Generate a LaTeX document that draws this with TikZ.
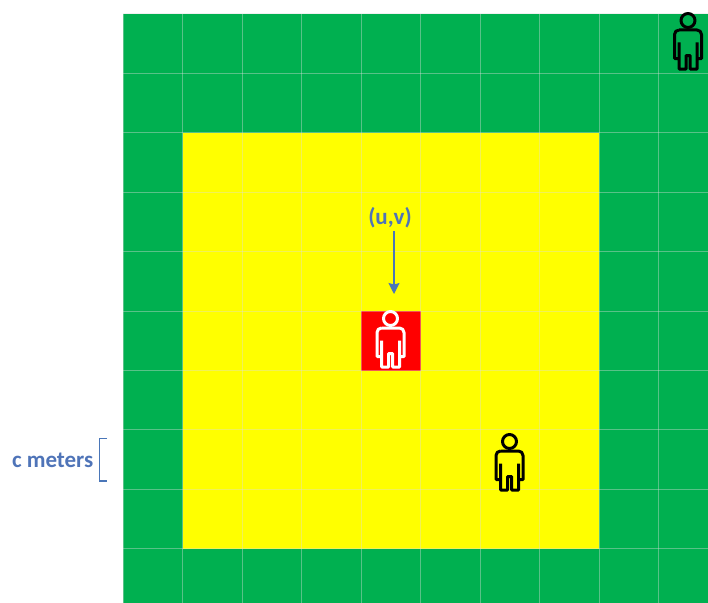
\documentclass[tikz,border=0pt]{standalone}
\usepackage{fontspec}
\setmainfont{Carlito}
\usetikzlibrary{arrows.meta}
\definecolor{gridgreen}{HTML}{00B050}
\definecolor{gridyellow}{HTML}{FFFF00}
\definecolor{gridred}{HTML}{FF0000}
\definecolor{gridline}{HTML}{DDDDDD}
\definecolor{labelblue}{HTML}{4F74B8}
\definecolor{arrowblue}{HTML}{4A76B8}
\tikzset{
  person/.pic={
    \draw[line width=3pt, line join=round] (0,0) circle (7);
    \draw[line width=3pt, line join=round]
      (-9,9.5) -- (9,9.5) to[out=0,in=90] (13.5,14) -- (13.5,38) -- (9,38) -- (9,22)
      (9,38) -- (9,48.5) -- (2,48.5) -- (2,35) -- (-2,35) -- (-2,48.5) -- (-9,48.5) -- (-9,38)
      (-9,22) -- (-9,38) -- (-13.5,38) -- (-13.5,14) to[out=90,in=180] (-9,9.5);
  },
  label text/.style={font=\bfseries\fontsize{23}{25}\selectfont, text=labelblue, inner sep=0pt}
}
\begin{document}
\begin{tikzpicture}[x=1pt, y=-1pt, >=Stealth]
  \useasboundingbox (0,0) rectangle (708,602);
  \clip (0,0) rectangle (708,602);
  \fill[gridgreen] (123,14) rectangle (718,608);
  \fill[gridyellow] (182.5,133) rectangle (599,549);
  \fill[gridred] (361,311) rectangle (420.5,371);
  \foreach \i in {0,...,10} {
    \draw[gridline, opacity=.4, line width=1pt] ({123+59.5*\i},14) -- ({123+59.5*\i},608);
    \draw[gridline, opacity=.4, line width=1pt] (123,{14+59.4*\i}) -- (718,{14+59.4*\i});
  }
  \pic[black] at (688,20.5) {person};
  \pic[black] at (509.5,441.5) {person};
  \pic[white] at (390.5,318.5) {person};
  \node[label text] (uv) at (390,218) {(u,v)};
  \coordinate (uvtip) at (394,294);
  \coordinate (uvstart) at (394,231);
  \draw[->, arrowblue, line width=1.3pt, >={Stealth[length=11pt,width=11pt,inset=1.5pt]}] (uvstart) -- (uvtip);
  \node[label text, anchor=east] (cmeters) at (93.5,460) {c meters};
  \coordinate (bracktop) at (107,438.5);
  \coordinate (brackbot) at (107,481);
  \draw[arrowblue, line width=1.1pt] (bracktop) -| (99.5,481) -- (brackbot);
\end{tikzpicture}
\end{document}
